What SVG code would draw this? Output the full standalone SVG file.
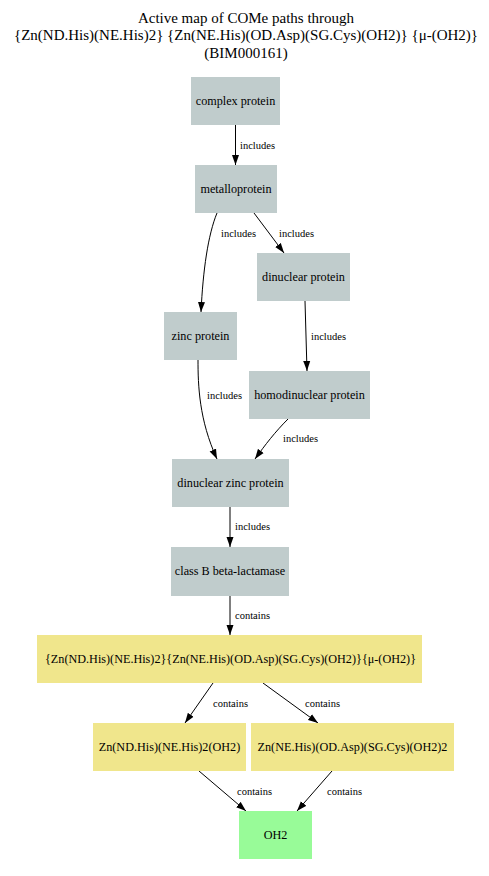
<svg xmlns="http://www.w3.org/2000/svg" width="489" height="876" viewBox="0 0 489 876">
<style>
text{font-family:'Liberation Serif','DejaVu Serif',serif;fill:#000}
.t{font-size:15px;text-anchor:middle}
.n{font-size:12.2px;text-anchor:middle}
.e{font-size:10.5px}
.g{fill:#c0cccc}
.y{fill:#f0e68c}
.p{fill:#98fb98}
.c{fill:none;stroke:#000;stroke-width:1}
</style>
<defs>
<marker id="a" markerUnits="userSpaceOnUse" markerWidth="10" markerHeight="8" refX="10" refY="4" orient="auto">
<path d="M0,0.5 L10,4 L0,7.5 Z" fill="#000"/>
</marker>
</defs>
<rect width="489" height="876" fill="#fff"/>
<g id="title">
<text class="t" x="246" y="23">Active map of COMe paths through</text>
<text class="t" x="246" y="40">{Zn(ND.His)(NE.His)2} {Zn(NE.His)(OD.Asp)(SG.Cys)(OH2)} {μ-(OH2)}</text>
<text class="t" x="246" y="58">(BIM000161)</text>
</g>
<g id="connectors">
<path class="c" marker-end="url(#a)" d="M235.5,125 L235.5,165"/>
<text class="e" x="240" y="149">includes</text>
<path class="c" marker-end="url(#a)" d="M217,213 C208,235 203,270 201,312"/>
<text class="e" x="221" y="237">includes</text>
<path class="c" marker-end="url(#a)" d="M254,213 L284,253"/>
<text class="e" x="279" y="237">includes</text>
<path class="c" marker-end="url(#a)" d="M305,301 L307,371"/>
<text class="e" x="311" y="340">includes</text>
<path class="c" marker-end="url(#a)" d="M198,360 C198,385 199,420 217,459"/>
<text class="e" x="207" y="399">includes</text>
<path class="c" marker-end="url(#a)" d="M288,419 C275,432 265,445 255,459"/>
<text class="e" x="283" y="442">includes</text>
<path class="c" marker-end="url(#a)" d="M230,507 L230,547"/>
<text class="e" x="235" y="530">includes</text>
<path class="c" marker-end="url(#a)" d="M230,596 L230,635"/>
<text class="e" x="235" y="619">contains</text>
<path class="c" marker-end="url(#a)" d="M213,683 L185,723"/>
<text class="e" x="213" y="707">contains</text>
<path class="c" marker-end="url(#a)" d="M263,683 L318,723"/>
<text class="e" x="305" y="707">contains</text>
<path class="c" marker-end="url(#a)" d="M199,771 L246,811"/>
<text class="e" x="237" y="795">contains</text>
<path class="c" marker-end="url(#a)" d="M332,771 L297,811"/>
<text class="e" x="327" y="795">contains</text>
</g>
<g id="complex_protein"><rect class="g" x="191" y="77" width="89" height="48"/><text class="n" x="235.5" y="105">complex protein</text></g>
<g id="metalloprotein"><rect class="g" x="195" y="165" width="82" height="48"/><text class="n" x="236" y="193">metalloprotein</text></g>
<g id="dinuclear_protein"><rect class="g" x="257" y="253" width="93" height="48"/><text class="n" x="303.5" y="281">dinuclear protein</text></g>
<g id="zinc_protein"><rect class="g" x="164" y="312" width="73" height="48"/><text class="n" x="200.5" y="340">zinc protein</text></g>
<g id="homodinuclear_protein"><rect class="g" x="249" y="371" width="121" height="48"/><text class="n" x="309.5" y="399">homodinuclear protein</text></g>
<g id="dinuclear_zinc_protein"><rect class="g" x="172" y="459" width="117" height="48"/><text class="n" x="230.5" y="487">dinuclear zinc protein</text></g>
<g id="class_b_beta_lactamase"><rect class="g" x="171" y="547" width="118" height="49"/><text class="n" x="230" y="575">class B beta-lactamase</text></g>
<g id="bim000161"><rect class="y" x="37" y="635" width="385" height="48"/><text class="n" x="230.5" y="663">{Zn(ND.His)(NE.His)2}{Zn(NE.His)(OD.Asp)(SG.Cys)(OH2)}{μ-(OH2)}</text></g>
<g id="zn_nd_his"><rect class="y" x="93" y="723" width="153" height="48"/><text class="n" x="169.5" y="751">Zn(ND.His)(NE.His)2(OH2)</text></g>
<g id="zn_ne_his"><rect class="y" x="251" y="723" width="203" height="48"/><text class="n" x="352.5" y="751">Zn(NE.His)(OD.Asp)(SG.Cys)(OH2)2</text></g>
<g id="oh2"><rect class="p" x="239" y="811" width="73" height="48"/><text class="n" x="275.5" y="839">OH2</text></g>
</svg>
